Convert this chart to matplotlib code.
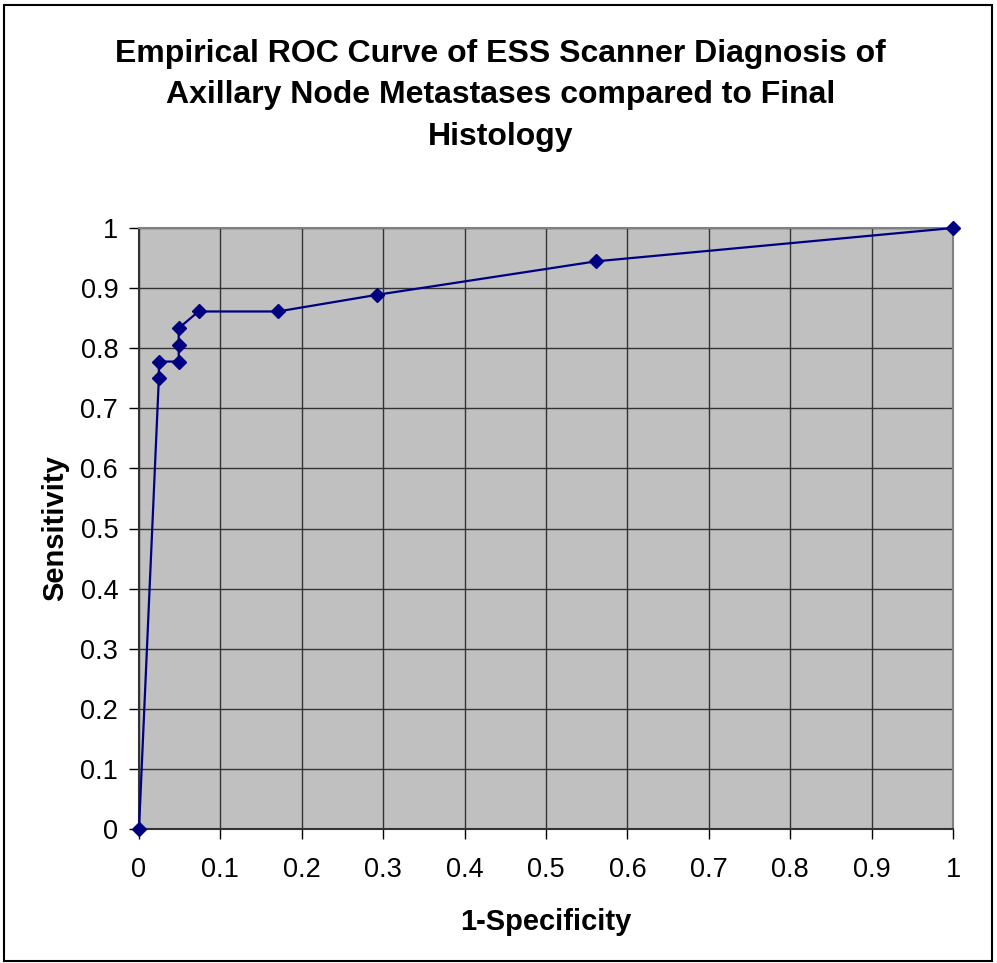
import matplotlib.pyplot as plt
from matplotlib.patches import Rectangle

# ROC points (1-specificity, sensitivity)
fpr = [0, 1/41, 1/41, 2/41, 2/41, 2/41, 3/41, 7/41, 12/41, 23/41, 1]
tpr = [0, 27/36, 28/36, 28/36, 29/36, 30/36, 31/36, 31/36, 32/36, 34/36, 1]

ticks = [0, 0.1, 0.2, 0.3, 0.4, 0.5, 0.6, 0.7, 0.8, 0.9, 1]
tick_labels = ['0', '0.1', '0.2', '0.3', '0.4', '0.5', '0.6', '0.7', '0.8', '0.9', '1']

plt.rcParams['font.family'] = ['Liberation Sans', 'DejaVu Sans']

fig = plt.figure(figsize=(9.97, 9.63), dpi=100)
ax = fig.add_axes([139/997, 1 - 829/963, 814/997, 601/963])
ax.set_facecolor('#C0C0C0')

ax.plot(fpr, tpr, color='#000080', linewidth=1.6, marker='D', markersize=7.5,
        clip_on=False, zorder=5)

ax.set_xlim(0, 1)
ax.set_ylim(0, 1)
ax.set_xticks(ticks)
ax.set_xticklabels(tick_labels)
ax.set_yticks(ticks)
ax.set_yticklabels(tick_labels)
ax.tick_params(labelsize=19.5, length=7, width=1, direction='out', pad=8)
ax.tick_params(axis='x', pad=13)
ax.grid(True, color='#333333', linewidth=1)
ax.set_axisbelow(True)

for s in ['left', 'bottom']:
    ax.spines[s].set_color('#333333')
    ax.spines[s].set_linewidth(1.5)
for s in ['top', 'right']:
    ax.spines[s].set_color('#808080')
    ax.spines[s].set_linewidth(1.5)

ax.set_xlabel('1-Specificity', fontsize=21, fontweight='bold', labelpad=18)
ax.set_ylabel('Sensitivity', fontsize=21, fontweight='bold', labelpad=8)

fig.text(0.502, 1 - 95/963,
         'Empirical ROC Curve of ESS Scanner Diagnosis of\n'
         'Axillary Node Metastases compared to Final\nHistology',
         ha='center', va='center', fontsize=23, fontweight='bold', linespacing=1.5)

fig.patches.append(Rectangle((4/997, 1 - 961/963), 988/997, 956/963,
                             transform=fig.transFigure, fill=False,
                             edgecolor='black', linewidth=1.5))

fig.savefig('out.png', dpi=100)
